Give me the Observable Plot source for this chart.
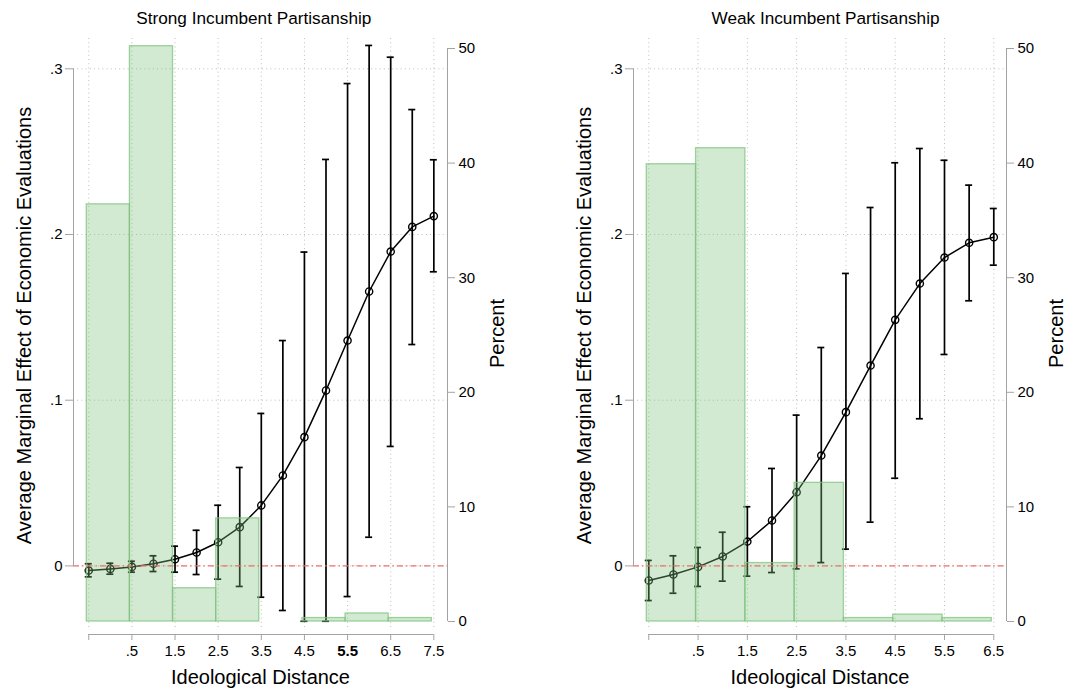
<!DOCTYPE html>
<html><head><meta charset="utf-8">
<script src="https://cdn.jsdelivr.net/npm/d3@7"></script>
<script src="https://cdn.jsdelivr.net/npm/@observablehq/plot@0.6"></script>
<style>
body{margin:0;background:#fff;}
#wrap{position:relative;width:1070px;height:691px;background:#fff;}
#wrap svg{position:absolute;top:0;overflow:visible;}
</style></head><body><div id="wrap"></div>
<script>
// ---------- DATA ----------
// Strong Incumbent Partisanship
const strongX   = [-0.5,0,0.5,1,1.5,2,2.5,3,3.5,4,4.5,5,5.5,6,6.5,7,7.5];
const strongAME = [-0.0028,-0.0018,-0.0006,0.0013,0.0040,0.0081,0.0143,0.0234,0.0365,0.0546,0.0777,0.1059,0.1360,0.1656,0.1897,0.2046,0.2111];
const strongLo  = [-0.0066,-0.0050,-0.0038,-0.0034,-0.0038,-0.0052,-0.0080,-0.0124,-0.0189,-0.0269,-0.0334,-0.0334,-0.0185,0.0173,0.0721,0.1336,0.1775];
const strongHi  = [0.0013,0.0016,0.0028,0.0061,0.0119,0.0215,0.0366,0.0594,0.0920,0.1360,0.1894,0.2453,0.2911,0.3141,0.3070,0.2754,0.2451];
const strongBins = [0,1,2,3,4,5,6,7];
const strongPct  = [36.4,50.2,2.9,9.0,0,0.3,0.7,0.3];
const strongXTicks = [-0.5,0.5,1.5,2.5,3.5,4.5,5.5,6.5,7.5];
const strongXTickLabels = ["",".5","1.5","2.5","3.5","4.5","5.5","6.5","7.5"];

// Weak Incumbent Partisanship
const weakX   = [-0.5,0,0.5,1,1.5,2,2.5,3,3.5,4,4.5,5,5.5,6,6.5];
const weakAME = [-0.0088,-0.0052,-0.0006,0.0057,0.0147,0.0274,0.0445,0.0666,0.0928,0.1209,0.1485,0.1704,0.1861,0.1950,0.1984];
const weakLo  = [-0.0209,-0.0165,-0.0124,-0.0092,-0.0062,-0.0040,-0.0018,0.0020,0.0101,0.0264,0.0529,0.0888,0.1276,0.1600,0.1815];
const weakHi  = [0.0033,0.0061,0.0111,0.0203,0.0357,0.0588,0.0910,0.1318,0.1765,0.2163,0.2433,0.2519,0.2448,0.2298,0.2157];
const weakBins = [0,1,2,3,4,5,6];
const weakPct  = [39.9,41.3,5.1,12.1,0.3,0.6,0.3];
const weakXTicks = [-0.5,0.5,1.5,2.5,3.5,4.5,5.5,6.5];
const weakXTickLabels = ["",".5","1.5","2.5","3.5","4.5","5.5","6.5"];

const yTicks = [0,0.1,0.2,0.3];
const yTickLabels = ["0",".1",".2",".3"];
const pctTicks = [0,10,20,30,40,50];

const titles = ["Strong Incumbent Partisanship","Weak Incumbent Partisanship"];
const yTitle = "Average Marginal Effect of Economic Evaluations";
const y2Title = "Percent";
const xTitle = "Ideological Distance";

// ---------- LAYOUT ----------
const Y_DOMAIN = [-0.0414, 0.3195];
const PCT0 = -0.03355, PCT_SLOPE = 0.006916;   // percent axis aligned to AME axis
const toV = p => PCT0 + p * PCT_SLOPE;
const GRID_BOTTOM = -0.0372;
const FONT = "'Liberation Sans', Arial, Helvetica, sans-serif";
const GRAY = "#a3a3a3";

function panel(o) {
  const pts = o.xs.map((x, i) => ({x, ame: o.ame[i], lo: o.lo[i], hi: o.hi[i]}));
  const bins = o.bins.map((c, i) => ({x1: c - 0.5, x2: c + 0.5, pct: o.pct[i]})).filter(d => d.pct > 0);
  const xLab = t => o.xLabels[o.xTicks.indexOf(t)];
  const yLab = t => yTickLabels[yTicks.indexOf(t)];
  return Plot.plot({
    width: 535, height: 691,
    marginLeft: o.ml, marginRight: o.mr, marginTop: 36, marginBottom: 57,
    x: {domain: o.xDomain, axis: null},
    y: {domain: Y_DOMAIN, axis: null},
    style: {fontFamily: FONT, fontSize: "15px", background: "transparent", color: "black"},
    marks: [
      Plot.gridY(yTicks, {stroke: "#bdbdbd", strokeOpacity: 1, strokeDasharray: "1,3.2"}),
      Plot.gridX(o.xTicks, {y1: () => GRID_BOTTOM, y2: () => Y_DOMAIN[1], stroke: "#bdbdbd", strokeOpacity: 1, strokeDasharray: "1,3.2"}),
      Plot.ruleX(pts, {x: "x", y1: "lo", y2: "hi", stroke: "black", strokeWidth: 1.7}),
      Plot.ruleY(pts, {y: "lo", x1: "x", x2: "x", insetLeft: -3.5, insetRight: -3.5, stroke: "black", strokeWidth: 1.7}),
      Plot.ruleY(pts, {y: "hi", x1: "x", x2: "x", insetLeft: -3.5, insetRight: -3.5, stroke: "black", strokeWidth: 1.7}),
      Plot.line(pts, {x: "x", y: "ame", stroke: "black", strokeWidth: 1.5}),
      Plot.dot(pts, {x: "x", y: "ame", r: 3.6, stroke: "black", strokeWidth: 1.4, fill: "none"}),
      Plot.rect(bins, {x1: "x1", x2: "x2", y1: () => toV(0), y2: d => toV(d.pct), dx: -2,
        fill: "rgb(127,195,127)", fillOpacity: 0.35, stroke: "rgb(127,195,127)", strokeOpacity: 0.75, strokeWidth: 1.3}),
      Plot.ruleY([0], {stroke: "#ee6f6f", strokeWidth: 1.4, strokeDasharray: "6,3,1.5,3"}),
      // axis lines
      Plot.ruleX([o.xDomain[0]], {y1: () => yTicks[0], y2: () => yTicks[yTicks.length - 1], stroke: GRAY}),
      Plot.ruleX([o.xDomain[1]], {y1: () => toV(pctTicks[0]), y2: () => toV(pctTicks[pctTicks.length - 1]), stroke: GRAY}),
      Plot.ruleY([Y_DOMAIN[0]], {x1: () => o.xTicks[0], x2: () => o.xTicks[o.xTicks.length - 1], stroke: GRAY}),
      Plot.axisY({ticks: yTicks, anchor: "left", tickSize: 8, tickPadding: 3, tickFormat: yLab, stroke: GRAY, fill: "black", fontSize: 15, label: null}),
      Plot.axisY({ticks: pctTicks.map(toV), anchor: "right", tickSize: 7, tickPadding: 4,
        tickFormat: v => String(Math.round((v - PCT0) / PCT_SLOPE)), stroke: GRAY, fill: "black", fontSize: 15, label: null}),
      Plot.axisX({ticks: o.xTicks.filter(t => t !== o.boldTick), anchor: "bottom", tickSize: 6, tickPadding: 5,
        tickFormat: xLab, stroke: GRAY, fill: "black", fontSize: 15, label: null}),
      ...(o.boldTick != null ? [Plot.axisX({ticks: [o.boldTick], anchor: "bottom", tickSize: 6, tickPadding: 5,
        tickFormat: xLab, stroke: GRAY, fill: "black", fontSize: 15, fontWeight: 600, label: null})] : []),
      // titles
      Plot.text([o.title], {frameAnchor: "top", dx: o.titleDx, dy: -18, fontSize: 17.2, lineAnchor: "middle", fill: "black"}),
      Plot.text([yTitle], {frameAnchor: "left", rotate: -90, dx: -49, dy: -10, fontSize: 20, textAnchor: "middle", lineAnchor: "middle", fill: "black"}),
      Plot.text([y2Title], {frameAnchor: "right", rotate: -90, dx: 50, dy: -2, fontSize: 20, textAnchor: "middle", lineAnchor: "middle", fill: "black"}),
      Plot.text([xTitle], {frameAnchor: "bottom", dy: 43.5, fontSize: 20, lineAnchor: "middle", fill: "black"})
    ]
  });
}

const left = panel({title: titles[0], xs: strongX, ame: strongAME, lo: strongLo, hi: strongHi,
  bins: strongBins, pct: strongPct, xTicks: strongXTicks, xLabels: strongXTickLabels,
  xDomain: [-0.854, 7.817], ml: 73, mr: 88, titleDx: -6.7, boldTick: 5.5});
const right = panel({title: titles[1], xs: weakX, ame: weakAME, lo: weakLo, hi: weakHi,
  bins: weakBins, pct: weakPct, xTicks: weakXTicks, xLabels: weakXTickLabels,
  xDomain: [-0.81, 6.758], ml: 98, mr: 64, titleDx: 5.5, boldTick: null});
left.style.left = "0px";
right.style.left = "535px";
const wrap = document.getElementById("wrap");
wrap.appendChild(left);
wrap.appendChild(right);
</script>
</body></html>
